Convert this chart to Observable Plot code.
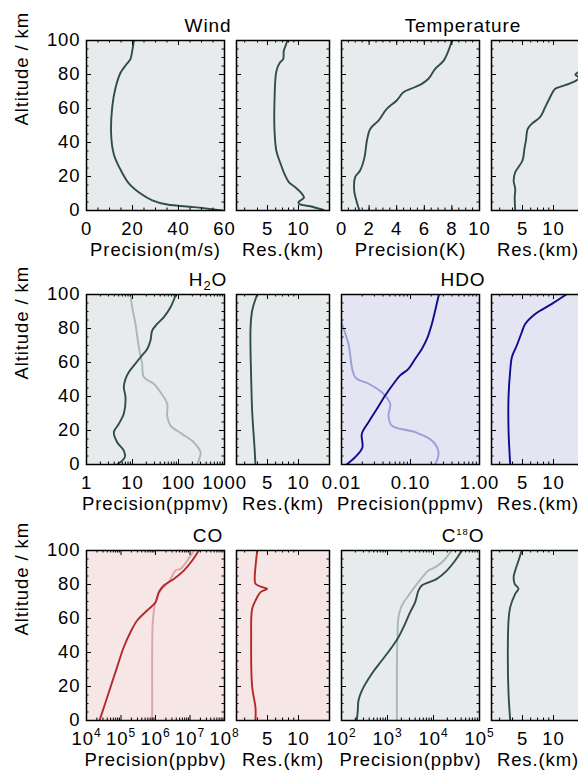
<!DOCTYPE html>
<html><head><meta charset="utf-8">
<script src="https://cdn.jsdelivr.net/npm/d3@7"></script>
<script src="https://cdn.jsdelivr.net/npm/@observablehq/plot@0.6"></script>
<style>
body{margin:0;background:#fff;}
#wrap{position:relative;width:578px;height:773px;overflow:hidden;background:#fff;}
</style></head><body><div id="wrap"></div>
<script>
// ---- data: [altitude km, value] ----
const windPrecision = [[100,20.6],[94,19.9],[89,19.1],[86,17.4],[81,14.8],[72,12.6],[61,11.2],[45,10.7],[33,11.9],[24,14.8],[16,18.4],[10,23.5],[6,28.6],[3.5,35.1],[2,46.7],[0,59]];
const windRes = [[100,7.8],[97,7.5],[94,7.2],[89,7.1],[87,6.6],[82,6.1],[65,5.85],[47,5.85],[35,6.1],[27.5,6.7],[21.6,7.3],[16.7,8.05],[13.7,9.3],[9.8,10.8],[7.5,11.3],[5,10.0],[3.8,10.2],[2.5,13],[0.3,17.5]];
const tempPrecision = [[100,8.0],[94,7.75],[88,7.39],[83.3,6.79],[77.5,6.3],[74.5,5.82],[72.2,5.22],[69.6,4.49],[64.7,4.0],[59.8,3.28],[52.9,2.68],[48,2.08],[41,1.84],[31.4,1.67],[23.5,1.35],[19.6,0.99],[11.8,0.92],[4.9,1.11],[0,1.3]];
const tempRes = [[100,20],[84,19],[81.5,17.5],[80,16.3],[78,17.8],[75.5,15.5],[73,12],[71.6,10.4],[64.7,8.94],[60.8,8.3],[54.9,7.4],[51,6.15],[48,5.62],[41.2,5.4],[36.3,5.22],[29.4,5.0],[22.5,4.25],[17.6,4.1],[12.7,4.25],[7.8,4.2],[0,4.25]];
const h2oPrecision = [[100,88],[92.5,67],[86.7,48],[82.7,34.4],[78.8,26.8],[72.9,24.6],[68,20.9],[63.1,14.9],[58.2,10.7],[54.3,8.3],[50.4,7.05],[45.5,6.47],[39.6,7.05],[29.8,6.47],[23.9,5.04],[19,3.93],[13.1,4.64],[8.2,6.47],[4.3,6.8],[0,4.64]];
const h2oPrior = [[100,9.05],[92.5,9.84],[82.7,11.6],[69,13.7],[59.2,16.2],[51.4,17.6],[47.5,29],[42.5,40.6],[35.7,56.8],[28.8,56.8],[22.9,67],[18,120],[13.1,214],[7.2,301],[4.3,290],[0,255]];
const h2oRes = [[100,3.97],[90.6,3.55],[80,3.42],[51,3.47],[31,3.55],[10,3.74],[0,3.82]];
const hdoPrecision = [[100,0.258],[90.6,0.228],[82.7,0.204],[73.9,0.173],[68,0.146],[62.2,0.117],[56.3,0.0935],[52.4,0.0708],[47.5,0.0567],[40.6,0.043],[32.7,0.0325],[24.9,0.0246],[18,0.0197],[10.2,0.0201],[5.3,0.0167],[0,0.0119]];
const hdoPrior = [[84,0.0099],[71,0.0126],[51.4,0.0158],[47.5,0.0246],[42.5,0.0384],[35.7,0.0508],[28.8,0.048],[22.9,0.0536],[19,0.117],[14.1,0.204],[7.2,0.255],[0,0.228]];
const hdoRes = [[100,13.3],[94.5,9.65],[88.6,6.64],[82.7,5.31],[77.8,4.92],[70,4.4],[63.1,3.94],[55.3,3.8],[40,3.66],[20,3.66],[0,3.8]];
const coPrecision = [[100,1.8e7],[94.1,1.16e7],[88.2,6.6e6],[83.3,3.4e6],[79.4,1.74e6],[75.5,1.25e6],[69.6,1e6],[64.7,5.7e5],[58.8,2.94e5],[51.9,1.88e5],[43.1,1.2e5],[31.4,7.7e4],[19.6,4.96e4],[7.8,3.2e4],[0,2.38e4]];
const coPrior = [[100,1.29e7],[94,8.3e6],[89.2,5.3e6],[88.2,3.8e6],[81.4,2.43e6],[76.5,1.4e6],[69.6,1e6],[58.8,8.4e5],[39,8e5],[19.6,8e5],[0,8e5]];
const coRes = [[100,3.97],[90.2,3.82],[84.3,3.76],[80.4,3.82],[78.4,4.44],[77.5,4.97],[75.5,4.28],[72.5,3.97],[65.7,3.55],[49,3.47],[19.6,3.55],[7.8,3.82],[0,3.82]];
const c18oPrecision = [[100,4.13e4],[94.1,2.96e4],[88.2,1.95e4],[83.3,1.18e4],[79.4,5.57e3],[76.5,4.72e3],[69.6,4.0e3],[63.7,3.11e3],[54.9,2.23e3],[49,1.73e3],[43.1,1.24e3],[35.3,753],[27.5,456],[17.6,277],[11.8,234],[5.9,226],[0,215]];
const c18oPrior = [[100,2.5e4],[94,1.65e4],[90.2,1.09e4],[88.2,7.8e3],[81.4,4.7e3],[73.5,2.86e3],[67.6,2.05e3],[60.8,1.73e3],[51,1.65e3],[29.4,1.6e3],[0,1.6e3]];
const c18oRes = [[100,4.92],[94,4.57],[88.2,4.25],[84.3,4.1],[80.4,4.2],[77.5,4.57],[74.5,4.25],[66.7,3.8],[58.8,3.66],[39,3.6],[15.7,3.66],[0,3.8]];

// ---- tick labels ----
const yTicks = [0,20,40,60,80,100];
const windTicks = [0,20,40,60];
const tempTicks = [0,2,4,6,8,10];
const resTicks = [5,10];
const h2oTicks = [1,10,100,1000];
const hdoTicks = [0.01,0.1,1];
const coTicks = [1e4,1e5,1e6,1e7,1e8];
const c18oTicks = [1e2,1e3,1e4,1e5];

// ---- styles ----
const GRAY = "#e8ebeb", TEAL = "#2e4e49", TEAL_L = "#a9b8b4";
const LAV = "#e4e4f2", NAVY = "#0c0c8e", NAVY_L = "#9d9ddb";
const PINK = "#f6e6e6", RED = "#b3292b", RED_L = "#dda5a5";
const FONT = '"Liberation Sans", Arial, Helvetica, sans-serif';

const cols = {A:[86,224], B:[236,329], C:[341,479], D:[491,584]};
const rows = [[40,210],[294,464],[550,720]];
const W = 600, H = 773;

function stepMinor(domain, step) {
  const out = [];
  for (let v = domain[0]; v <= domain[1] + 1e-9; v += step) out.push(+v.toFixed(6));
  return out;
}
function logMinor(domain) {
  const out = [];
  for (let e = Math.floor(Math.log10(domain[0])) ; e <= Math.ceil(Math.log10(domain[1])); e++)
    for (let k = 2; k <= 9; k++) { const v = k * Math.pow(10, e); if (v >= domain[0] && v <= domain[1]) out.push(v); }
  return out;
}
const pow = d => "10^" + Math.round(Math.log10(d));

const resSpec = {type:"log", domain:[2.5,20], ticks:resTicks, minor:[3,4,6,7,8,9,20], fmt:d=>String(d), xlabel:"Res.(km)"};

const panels = [
  {col:"A", row:0, type:"linear", domain:[0,60], ticks:windTicks, minor:stepMinor([0,60],5), fmt:d=>String(d), xlabel:"Precision(m/s)", bg:GRAY, lines:[[windPrecision,TEAL]], yaxis:true, title:"Wind"},
  {col:"B", row:0, ...resSpec, bg:GRAY, lines:[[windRes,TEAL]]},
  {col:"C", row:0, type:"linear", domain:[0,10], ticks:tempTicks, minor:stepMinor([0,10],0.5), fmt:d=>String(d), xlabel:"Precision(K)", bg:GRAY, lines:[[tempPrecision,TEAL]], title:"Temperature"},
  {col:"D", row:0, ...resSpec, bg:GRAY, lines:[[tempRes,TEAL]]},
  {col:"A", row:1, type:"log", domain:[1,1000], ticks:h2oTicks, minor:logMinor([1,1000]), fmt:d=>String(d), xlabel:"Precision(ppmv)", bg:GRAY, lines:[[h2oPrior,TEAL_L],[h2oPrecision,TEAL]], yaxis:true, title:"H_2O"},
  {col:"B", row:1, ...resSpec, bg:GRAY, lines:[[h2oRes,TEAL]]},
  {col:"C", row:1, type:"log", domain:[0.01,1], ticks:hdoTicks, minor:logMinor([0.01,1]), fmt:d3.format(".2f"), xlabel:"Precision(ppmv)", bg:LAV, lines:[[hdoPrior,NAVY_L],[hdoPrecision,NAVY]], title:"HDO"},
  {col:"D", row:1, ...resSpec, bg:LAV, lines:[[hdoRes,NAVY]]},
  {col:"A", row:2, type:"log", domain:[1e4,1e8], ticks:coTicks, minor:logMinor([1e4,1e8]), fmt:pow, xlabel:"Precision(ppbv)", bg:PINK, lines:[[coPrior,RED_L],[coPrecision,RED]], yaxis:true, title:"CO"},
  {col:"B", row:2, ...resSpec, bg:PINK, lines:[[coRes,RED]]},
  {col:"C", row:2, type:"log", domain:[1e2,1e5], ticks:c18oTicks, minor:logMinor([1e2,1e5]), fmt:pow, xlabel:"Precision(ppbv)", bg:GRAY, lines:[[c18oPrior,TEAL_L],[c18oPrecision,TEAL]], title:"C^18O"},
  {col:"D", row:2, ...resSpec, bg:GRAY, lines:[[c18oRes,TEAL]]}
];

function richify(svg) {
  svg.querySelectorAll("text").forEach(t => {
    const s = t.textContent;
    if (!/[_^]\d/.test(s)) return;
    const parts = s.split(/([_^]\d+)/).filter(p => p !== "");
    while (t.firstChild) t.removeChild(t.firstChild);
    let shift = 0;
    const isTitle = !/^10\^/.test(s);
    for (const p of parts) {
      const ts = document.createElementNS("http://www.w3.org/2000/svg", "tspan");
      if (p[0] === "^" || p[0] === "_") {
        const up = p[0] === "^";
        const d = up ? (isTitle ? -7 : -8) : 4;
        ts.setAttribute("dy", d - shift); shift = d;
        ts.setAttribute("font-size", up ? (isTitle ? "9.5px" : "12px") : "13px");
        ts.textContent = p.slice(1);
      } else {
        if (shift) ts.setAttribute("dy", -shift);
        shift = 0;
        ts.textContent = p;
      }
      t.appendChild(ts);
    }
  });
}

const wrap = document.getElementById("wrap");
const yMinor = stepMinor([0,100],5);

for (const p of panels) {
  const [x0, x1] = cols[p.col];
  const [y0, y1] = rows[p.row];
  const w = x1 - x0, h = y1 - y0;
  const inDom = p.ticks.filter(v => v >= p.domain[0] && v <= p.domain[1]);
  const lineMarks = p.lines.map(([data, color]) =>
    Plot.line(data, {x: d => d[1], y: d => d[0], stroke: color, strokeWidth: 1.9, curve: "catmull-rom", clip: true}));
  const marks = [
    Plot.frame({fill: p.bg, stroke: null}),
    ...lineMarks,
    Plot.tickX(inDom, {x: d => d, insetTop: h - 5, stroke: "#000", strokeWidth: 1}),
    Plot.tickX(inDom, {x: d => d, insetBottom: h - 5, stroke: "#000", strokeWidth: 1}),
    Plot.tickX(p.minor, {x: d => d, insetTop: h - 2.5, stroke: "#000", strokeWidth: 1}),
    Plot.tickX(p.minor, {x: d => d, insetBottom: h - 2.5, stroke: "#000", strokeWidth: 1}),
    Plot.tickY(yTicks, {y: d => d, insetRight: w - 5, stroke: "#000", strokeWidth: 1}),
    Plot.tickY(yTicks, {y: d => d, insetLeft: w - 5, stroke: "#000", strokeWidth: 1}),
    Plot.tickY(yMinor, {y: d => d, insetRight: w - 2.5, stroke: "#000", strokeWidth: 1}),
    Plot.tickY(yMinor, {y: d => d, insetLeft: w - 2.5, stroke: "#000", strokeWidth: 1}),
    Plot.frame({stroke: "#000", strokeWidth: 1.5}),
    // x tick labels
    Plot.text(p.ticks, {x: d => d, text: p.fmt, frameAnchor: "bottom", dy: 19, lineAnchor: "middle", fill: "#000"}),
    // x axis label
    Plot.text([p.xlabel], {text: d => d, frameAnchor: "bottom", dy: 40, lineAnchor: "middle", fill: "#000"})
  ];
  if (p.yaxis) {
    marks.push(Plot.text(yTicks, {y: d => d, text: d => String(d), frameAnchor: "left", dx: -6, textAnchor: "end", lineAnchor: "middle", fill: "#000"}));
    marks.push(Plot.text(["Altitude / km"], {text: d => d, frameAnchor: "left", rotate: -90, dx: -64, lineAnchor: "middle", fill: "#000"}));
  }
  if (p.title) {
    marks.push(Plot.text([p.title], {text: d => d, frameAnchor: "top", dx: 52.5, dy: -15, lineAnchor: "middle", fontSize: 19, fill: "#000"}));
  }
  const svg = Plot.plot({
    width: W, height: H,
    marginLeft: x0, marginRight: W - x1, marginTop: y0, marginBottom: H - y1,
    x: {type: p.type, domain: p.domain, axis: null},
    y: {domain: [0, 100], axis: null},
    style: `position:absolute;left:0;top:0;background:transparent;overflow:visible;max-width:none;font-family:${FONT};font-size:18.5px;letter-spacing:0.9px;color:#000;`,
    marks
  });
  richify(svg);
  wrap.appendChild(svg);
}
</script></body></html>
